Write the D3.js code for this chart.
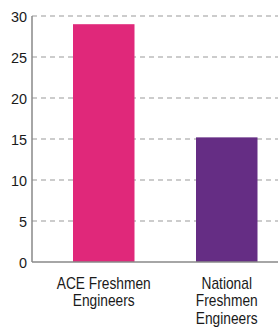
<!DOCTYPE html>
<html lang="en">
    <head>
        <meta charset="utf-8">
        <title>Freshmen Engineers</title>
        <script src="https://d3js.org/d3.v7.min.js"></script>
        <style>
            html, body {
                margin: 0;
                padding: 0;
                background: #fff;
            }
            svg {
                display: block;
            }
            .tick-label, .cat-label {
                font-family: "Liberation Sans", Arial, sans-serif;
                fill: #1a1a1a;
            }
            .tick-label {
                font-size: 15.5px;
            }
            .cat-label {
                font-size: 16px;
            }
        </style>
    </head>
    <body>
        <svg id="chart"></svg>

        <script>
            // data
            const categories = [["ACE Freshmen", "Engineers"], ["National", "Freshmen", "Engineers"]];
            const values = [29, 15.2];
            const barColors = ["#e0287a", "#652d84"];
            const yTicks = [0, 5, 10, 15, 20, 25, 30];

            const width = 278;
            const height = 330;
            const margin = { top: 16, left: 32, bottom: 68 };

            const svg = d3.select("#chart")
                .attr("width", width)
                .attr("height", height);

            const x = d3.scaleBand()
                .domain(d3.range(categories.length))
                .range([42.25, 288.25])
                .paddingInner(0.5)
                .paddingOuter(0.25);

            const y = d3.scaleLinear()
                .domain([0, 30])
                .range([height - margin.bottom, margin.top]);

            // grid lines
            svg.append("g")
                .selectAll("line")
                .data(yTicks.filter(d => d > 0))
                .enter()
                .append("line")
                .attr("x1", margin.left)
                .attr("x2", width)
                .attr("y1", d => y(d))
                .attr("y2", d => y(d))
                .attr("stroke", "#999")
                .attr("stroke-width", 1.2)
                .attr("stroke-dasharray", "5,4");

            // bars
            svg.append("g")
                .selectAll("rect")
                .data(values)
                .enter()
                .append("rect")
                .attr("x", (d, i) => x(i))
                .attr("width", x.bandwidth())
                .attr("y", d => y(d))
                .attr("height", d => y(0) - y(d))
                .attr("fill", (d, i) => barColors[i]);

            // axes lines
            svg.append("line")
                .attr("x1", margin.left)
                .attr("x2", margin.left)
                .attr("y1", y(30))
                .attr("y2", y(0))
                .attr("stroke", "#888")
                .attr("stroke-width", 1.5);

            svg.append("line")
                .attr("x1", margin.left)
                .attr("x2", width)
                .attr("y1", y(0))
                .attr("y2", y(0))
                .attr("stroke", "#888")
                .attr("stroke-width", 1.5);

            // y tick labels (narrowed to look condensed)
            svg.append("g")
                .selectAll("text")
                .data(yTicks)
                .enter()
                .append("text")
                .attr("class", "tick-label")
                .attr("transform", d => `translate(${margin.left - 5},${y(d)}) scale(0.93,1)`)
                .attr("dy", "0.36em")
                .attr("text-anchor", "end")
                .text(d => d);

            // category labels
            const cat = svg.append("g")
                .selectAll("text")
                .data(categories)
                .enter()
                .append("text")
                .attr("class", "cat-label")
                .attr("text-anchor", "middle")
                .attr("transform", (d, i) => `translate(${x(i) + x.bandwidth() / 2},${y(0) + 27}) scale(0.86,1)`);

            cat.selectAll("tspan")
                .data(d => d)
                .enter()
                .append("tspan")
                .attr("x", 0)
                .attr("dy", (d, i) => i === 0 ? 0 : 17.5)
                .text(d => d);
        </script>
    </body>
</html>
